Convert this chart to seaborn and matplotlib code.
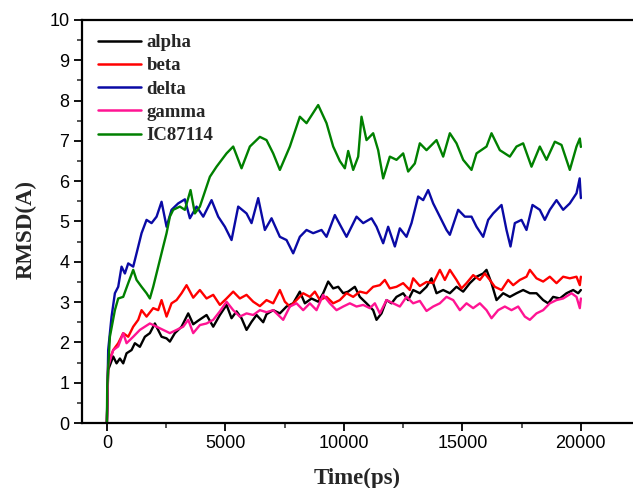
import matplotlib
matplotlib.use("Agg")
import matplotlib.pyplot as plt
import seaborn as sns
import pandas as pd
from matplotlib.ticker import MultipleLocator

series_names = ["alpha", "beta", "delta", "gamma", "IC87114"]
series_colors = ["#000000", "#ff0000", "#0a0aa5", "#ff1493", "#008000"]

alpha_t = [0, 55, 267, 408, 549, 689, 830, 1041, 1181, 1392, 1603, 1814, 2025, 2307, 2518, 2658, 2869,
           3151, 3432, 3643, 3854, 4206, 4487, 4768, 5049, 5260, 5471, 5682, 5893, 6104, 6315, 6596, 6736,
           7017, 7299, 7580, 7861, 8142, 8353, 8635, 8916, 9127, 9338, 9549, 9760, 9971, 10182, 10463,
           10674, 10955, 11236, 11377, 11588, 11799, 12010, 12221, 12502, 12713, 12924, 13205, 13487,
           13698, 13909, 14190, 14472, 14753, 15034, 15316, 15597, 15878, 16019, 16230, 16441, 16722,
           17003, 17284, 17565, 17847, 18128, 18409, 18620, 18831, 19113, 19394, 19675, 19886, 20000]
alpha_v = [0, 1.32, 1.65, 1.48, 1.60, 1.48, 1.73, 1.81, 1.98, 1.89, 2.14, 2.23, 2.47, 2.14, 2.10, 2.02, 2.23,
           2.39, 2.72, 2.45, 2.54, 2.68, 2.39, 2.68, 2.93, 2.60, 2.77, 2.60, 2.31, 2.51, 2.68, 2.50, 2.70,
           2.80, 2.72, 2.89, 2.97, 3.26, 2.97, 3.09, 3.01, 3.22, 3.51, 3.34, 3.38, 3.22, 3.26, 3.38,
           3.13, 2.97, 2.80, 2.56, 2.72, 3.05, 2.97, 3.13, 3.22, 3.05, 3.30, 3.22, 3.38,
           3.59, 3.22, 3.30, 3.22, 3.38, 3.26, 3.47, 3.63, 3.71, 3.80, 3.47, 3.05, 3.22,
           3.13, 3.22, 3.30, 3.22, 3.22, 3.05, 2.97, 3.13, 3.09, 3.22, 3.30, 3.22, 3.30]

beta_t = [0, 55, 267, 478, 689, 900, 1111, 1322, 1463, 1674, 1955, 2166, 2307, 2518, 2728, 2940, 3151,
          3362, 3643, 3924, 4206, 4487, 4768, 5049, 5330, 5611, 5893, 6174, 6455, 6736, 7017, 7299, 7510,
          7721, 8002, 8283, 8565, 8776, 8987, 9268, 9549, 9830, 10112, 10393, 10674, 10955, 11236, 11518,
          11729, 11939, 12221, 12502, 12783, 12924, 13205, 13487, 13768, 14050, 14261, 14472, 14753,
          14964, 15175, 15456, 15738, 15948, 16160, 16370, 16652, 16933, 17144, 17425, 17706, 17847,
          18128, 18409, 18690, 18972, 19253, 19534, 19816, 19956, 20000]
beta_v = [0, 1.48, 1.81, 1.98, 2.23, 2.14, 2.39, 2.56, 2.80, 2.64, 2.85, 2.80, 3.05, 2.64, 2.97, 3.05, 3.22,
          3.42, 3.11, 3.30, 3.09, 3.18, 2.93, 3.09, 3.26, 3.09, 3.18, 3.01, 2.90, 3.05, 2.97, 3.30, 3.01,
          2.89, 3.05, 3.22, 3.13, 3.26, 3.05, 3.13, 2.97, 3.05, 3.22, 3.13, 3.26, 3.22, 3.38, 3.42,
          3.55, 3.34, 3.38, 3.47, 3.30, 3.59, 3.40, 3.50, 3.47, 3.80, 3.55, 3.80, 3.55,
          3.34, 3.47, 3.67, 3.55, 3.71, 3.55, 3.38, 3.30, 3.55, 3.42, 3.55, 3.63, 3.80,
          3.59, 3.51, 3.63, 3.47, 3.63, 3.59, 3.63, 3.42, 3.63]

delta_t = [0, 55, 197, 338, 478, 619, 760, 900, 1111, 1252, 1463, 1674, 1885, 2097, 2307, 2518, 2728,
           3010, 3291, 3502, 3784, 4066, 4417, 4698, 4979, 5260, 5541, 5893, 6104, 6385, 6666, 6948,
           7299, 7580, 7861, 8142, 8424, 8705, 9057, 9268, 9619, 9901, 10112, 10534, 10815, 11166, 11377,
           11658, 11869, 12151, 12361, 12643, 12854, 13135, 13346, 13557, 13768, 14050, 14331, 14472,
           14824, 15105, 15386, 15597, 15878, 16089, 16300, 16652, 16862, 17031, 17214, 17495, 17706,
           17959, 18268, 18479, 18690, 18972, 19253, 19534, 19816, 19950, 20000]
delta_v = [0, 1.81, 2.64, 3.22, 3.38, 3.88, 3.71, 3.96, 3.88, 4.21, 4.71, 5.04, 4.96, 5.12, 5.49, 4.87, 5.29,
           5.45, 5.55, 5.08, 5.37, 5.12, 5.53, 5.12, 4.87, 4.54, 5.37, 5.20, 4.96, 5.58, 4.79, 5.08,
           4.62, 4.54, 4.21, 4.62, 4.79, 4.71, 4.79, 4.62, 5.16, 4.85, 4.62, 5.12, 4.96, 5.08, 4.87,
           4.46, 4.87, 4.38, 4.83, 4.62, 4.96, 5.62, 5.53, 5.78, 5.45, 5.12, 4.79, 4.67,
           5.29, 5.12, 5.12, 4.87, 4.62, 5.04, 5.20, 5.41, 4.79, 4.38, 4.96, 5.04, 4.79,
           5.41, 5.29, 5.04, 5.29, 5.53, 5.29, 5.45, 5.70, 6.07, 5.58]

gamma_t = [0, 55, 267, 478, 689, 830, 1111, 1392, 1603, 1814, 2097, 2377, 2658, 2940, 3221, 3432, 3643,
           3924, 4206, 4487, 4768, 5049, 5330, 5611, 5893, 6174, 6455, 6736, 7017, 7439, 7721, 8002,
           8283, 8565, 8846, 9127, 9408, 9690, 9971, 10252, 10534, 10815, 11096, 11307, 11518, 11799,
           12080, 12361, 12643, 12924, 13205, 13487, 13768, 14050, 14331, 14612, 14894, 15175, 15456,
           15738, 16019, 16230, 16511, 16792, 17073, 17355, 17636, 17847, 18128, 18409, 18690, 18972,
           19253, 19605, 19816, 19956, 20000]
gamma_v = [0, 1.40, 1.81, 1.90, 2.23, 1.98, 2.14, 2.31, 2.39, 2.47, 2.39, 2.31, 2.23, 2.31, 2.39, 2.56, 2.23,
           2.43, 2.47, 2.56, 2.77, 3.01, 2.80, 2.64, 2.72, 2.68, 2.80, 2.75, 2.80, 2.56, 2.89, 2.97,
           2.80, 2.97, 2.80, 3.18, 2.97, 2.80, 2.89, 2.97, 2.89, 2.93, 2.85, 2.97, 2.72, 3.05,
           2.97, 2.89, 3.13, 2.97, 3.03, 2.78, 2.89, 2.97, 3.13, 3.05, 2.80, 2.97, 2.85,
           2.97, 2.80, 2.60, 2.80, 2.89, 2.80, 2.89, 2.64, 2.56, 2.72, 2.80, 2.97, 3.05,
           3.09, 3.22, 3.13, 2.85, 3.09]

ic_t = [0, 14, 127, 338, 478, 689, 900, 1111, 1252, 1463, 1674, 1814, 1955, 2166, 2377, 2518, 2658, 2799,
        3080, 3291, 3530, 3713, 3924, 4066, 4346, 4627, 5049, 5330, 5682, 6033, 6455, 6736, 7017, 7299,
        7721, 8142, 8424, 8916, 9268, 9549, 9830, 10041, 10182, 10393, 10604, 10744, 10955, 11236, 11447,
        11658, 11939, 12221, 12502, 12713, 12994, 13205, 13487, 13909, 14190, 14472, 14753, 15034, 15386,
        15597, 16019, 16230, 16581, 17003, 17284, 17565, 17917, 18268, 18550, 18902, 19183, 19534, 19816,
        19956, 20000]
ic_v = [0, 0.9, 2.14, 2.80, 3.09, 3.13, 3.47, 3.80, 3.55, 3.38, 3.22, 3.09, 3.38, 3.88, 4.38, 4.71, 5.12, 5.29,
        5.37, 5.29, 5.78, 5.20, 5.37, 5.62, 6.11, 6.36, 6.69, 6.86, 6.32, 6.86, 7.10, 7.02, 6.69, 6.28,
        6.86, 7.60, 7.44, 7.89, 7.44, 6.86, 6.50, 6.32, 6.75, 6.28, 6.61, 7.60, 7.02, 7.19, 6.77,
        6.07, 6.61, 6.53, 6.69, 6.24, 6.44, 6.94, 6.77, 7.02, 6.61, 7.19, 6.94, 6.53, 6.28,
        6.69, 6.86, 7.19, 6.77, 6.61, 6.86, 6.94, 6.36, 6.86, 6.53, 6.98, 6.90, 6.28, 6.86,
        7.06, 6.85]

x_ticks = [0, 5000, 10000, 15000, 20000]
y_ticks = list(range(0, 11))

frames = []
for name, t, v in zip(series_names,
                      [alpha_t, beta_t, delta_t, gamma_t, ic_t],
                      [alpha_v, beta_v, delta_v, gamma_v, ic_v]):
    assert len(t) == len(v), (name, len(t), len(v))
    frames.append(pd.DataFrame({"Time": t, "RMSD": v, "series": name}))
df = pd.concat(frames, ignore_index=True)

sns.set_theme(style="ticks")
plt.rcParams["font.family"] = ["Liberation Sans", "DejaVu Sans"]

fig = plt.figure(figsize=(6.33, 4.88), dpi=100)
ax = fig.add_axes([82 / 633, 65 / 488, 1 - 82 / 633, 403 / 488])

sns.lineplot(data=df, x="Time", y="RMSD", hue="series", hue_order=series_names,
             palette=series_colors, linewidth=1.7, sort=False, estimator=None, ax=ax)

ax.set_xlim(-1050, 22200)
ax.set_ylim(0, 10)
ax.set_xticks(x_ticks)
ax.set_yticks(y_ticks)
ax.xaxis.set_minor_locator(MultipleLocator(2500))
ax.yaxis.set_minor_locator(MultipleLocator(0.5))
ax.tick_params(which="major", direction="out", length=6, width=1.3, labelsize=13, colors="#000000", pad=3)
ax.tick_params(which="minor", direction="out", length=3.6, width=1.1)
ax.tick_params(top=False, right=False, which="both")

for side in ["left", "bottom", "top"]:
    ax.spines[side].set_linewidth(1.6)
    ax.spines[side].set_color("#000000")
ax.spines["right"].set_visible(False)

ax.set_xlabel("Time(ps)", fontsize=16.5, fontweight="bold", family="Liberation Serif", labelpad=11)
ax.set_ylabel("RMSD(A)", fontsize=16.5, fontweight="bold", family="Liberation Serif")
ax.yaxis.set_label_coords(-0.082, 0.48)

leg = ax.legend(loc="upper left", bbox_to_anchor=(0.016, 0.984), frameon=False,
                prop={"family": "Liberation Serif", "weight": "bold", "size": 13.5},
                handlelength=2.25, handletextpad=0.32, labelspacing=0.33, borderaxespad=0)
for line in leg.get_lines():
    line.set_linewidth(1.8)

fig.savefig("out.png", dpi=100)
